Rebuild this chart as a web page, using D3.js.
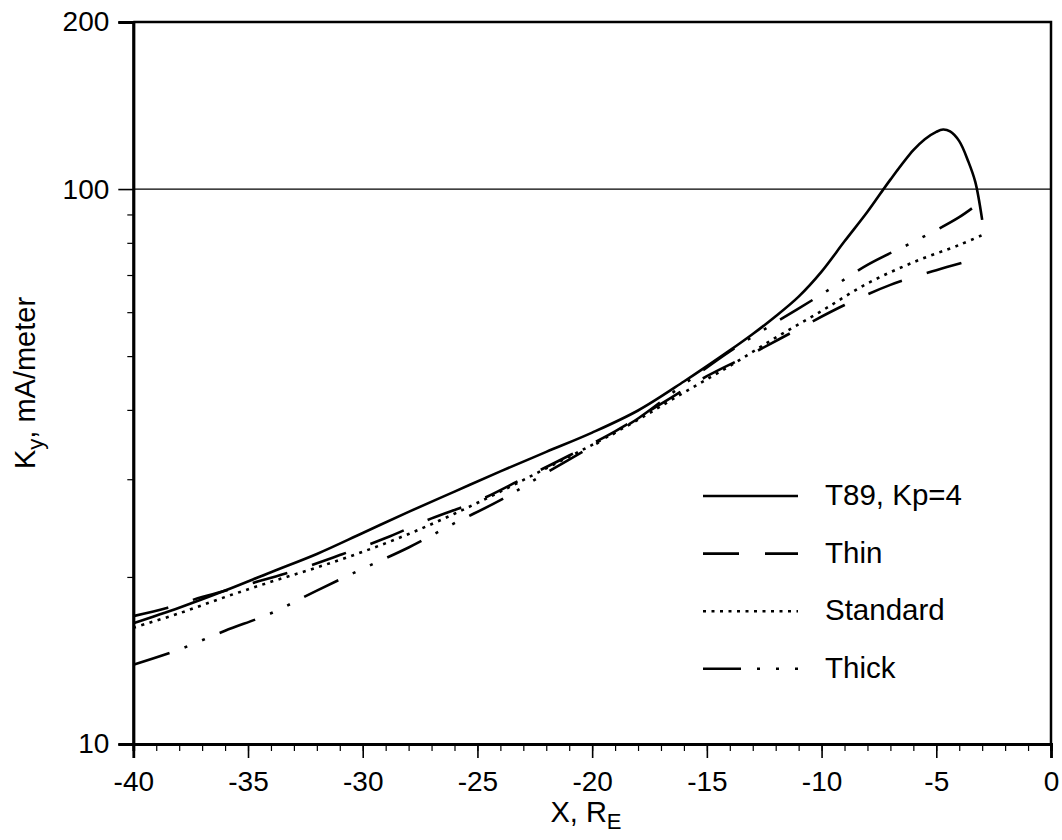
<!DOCTYPE html>
<html>
<head>
<meta charset="utf-8">
<script src="https://cdn.jsdelivr.net/npm/d3@7"></script>
<style>
    body { margin: 0; background: #fff; }
    text { font-family: "Liberation Sans", Arial, Helvetica, sans-serif; fill: #000; }
</style>
</head>
<body>
<div id="chart"></div>
<script>
// Data
var t89X = [-40, -38, -36, -34, -32, -30, -28, -26, -24, -22, -20, -18, -16, -14, -13, -12, -11, -10, -9, -8, -7, -6, -5.5, -5, -4.7, -4.4, -4, -3.6, -3.3, -3];
var t89Y = [16.5, 17.6, 18.9, 20.4, 22.0, 24.0, 26.2, 28.5, 31.0, 33.6, 36.4, 39.9, 45.0, 51.2, 54.8, 59.0, 64.0, 71.0, 80.5, 91.0, 104, 117.5, 123, 126.8, 128, 127, 122, 112, 103, 88];

var thinX = [-40, -38.5, -37, -35, -33, -31, -29, -27, -25, -23, -21, -19, -17, -15, -13, -11, -9, -7, -5, -3];
var thinY = [17.0, 17.6, 18.4, 19.4, 20.5, 21.9, 23.5, 25.5, 27.4, 30.1, 33.1, 36.6, 41.0, 46.0, 50.6, 56.0, 61.8, 67.2, 71.4, 75.3];

var stdX = [-40, -38, -36, -34, -32, -30, -28, -26, -24, -22, -20, -18, -16, -14, -12, -10, -8, -6, -4, -3];
var stdY = [16.2, 17.2, 18.4, 19.6, 20.8, 22.2, 23.9, 26.0, 28.5, 31.4, 34.6, 38.4, 43.0, 48.0, 54.0, 60.3, 67.6, 73.8, 79.3, 82.6];

var thickX = [-40, -38, -36, -34, -32, -30, -28, -26, -24, -22, -20, -18, -16, -14, -12, -10, -8, -6, -4, -3];
var thickY = [13.9, 14.8, 16.0, 17.2, 18.9, 20.7, 22.6, 25.0, 27.5, 30.8, 34.4, 38.6, 44.5, 51.0, 57.5, 64.6, 73.0, 80.3, 89.0, 95.3];

var legendLabels = ["T89, Kp=4", "Thin", "Standard", "Thick"];
var xMajorTicks = [-40, -35, -30, -25, -20, -15, -10, -5, 0];
var yMajorTicks = [10, 100, 200];
var yMinorTicks = [20, 30, 40, 50, 60, 70, 80, 90];

// Layout
var width = 1062, height = 840;
var plot = {left: 133.3, right: 1051, top: 22, bottom: 744};

var svg = d3.select("#chart")
    .append("svg")
    .attr("width", width)
    .attr("height", height);

var x = d3.scaleLinear().domain([-40, 0]).range([plot.left, plot.right]);
var y = d3.scaleLog().domain([10, 200]).range([plot.bottom, plot.top]);

// dash styles, same order as legend
var dashes = [null, "36,26", "3,5.5", "38,16,3,16,3,16"];

function zip(xs, ys) {
    return xs.map(function(d, i) { return [d, ys[i]]; });
}

var series = [zip(t89X, t89Y), zip(thinX, thinY), zip(stdX, stdY), zip(thickX, thickY)];

// reference line at 100
svg.append("line")
    .attr("x1", plot.left).attr("x2", plot.right)
    .attr("y1", y(100)).attr("y2", y(100))
    .attr("stroke", "#000").attr("stroke-width", 1.3);

// frame: top and right
svg.append("path")
    .attr("d", "M" + plot.left + "," + plot.top + "H" + plot.right + "V" + plot.bottom)
    .attr("fill", "none").attr("stroke", "#000").attr("stroke-width", 2.5);

// x axis: minor then major
var xMinor = svg.append("g")
    .attr("transform", "translate(0," + plot.bottom + ")")
    .call(d3.axisBottom(x).tickValues(d3.range(-40, 1, 1)).tickSize(7).tickFormat(""));
var xMajor = svg.append("g")
    .attr("transform", "translate(0," + plot.bottom + ")")
    .call(d3.axisBottom(x).tickValues(xMajorTicks).tickSize(14).tickPadding(13)
        .tickFormat(function(d) { return String(d); }));

// y axis: minor then major
var yMinor = svg.append("g")
    .attr("transform", "translate(" + plot.left + ",0)")
    .call(d3.axisLeft(y).tickValues(yMinorTicks).tickSize(6).tickFormat(""));
var yMajor = svg.append("g")
    .attr("transform", "translate(" + plot.left + ",0)")
    .call(d3.axisLeft(y).tickValues(yMajorTicks).tickSize(15).tickPadding(9)
        .tickFormat(function(d) { return String(d); }));

[xMinor, xMajor, yMinor, yMajor].forEach(function(g) {
    g.select(".domain").attr("stroke-width", 2.8);
    g.selectAll(".tick line").attr("stroke-width", 1.6);
    g.selectAll("text").style("font-size", "28px").attr("fill", "#000");
});
xMinor.selectAll(".tick line").attr("stroke-width", 1.2);
yMinor.selectAll(".tick line").attr("stroke-width", 1.2);

// curves
var line = d3.line()
    .x(function(d) { return x(d[0]); })
    .y(function(d) { return y(d[1]); })
    .curve(d3.curveCatmullRom.alpha(0.5));

svg.append("g").selectAll("path")
    .data(series)
    .join("path")
    .attr("d", line)
    .attr("fill", "none")
    .attr("stroke", "#000")
    .attr("stroke-width", 2.6)
    .attr("stroke-dasharray", function(d, i) { return dashes[i]; });

// legend
var legend = svg.append("g").selectAll("g")
    .data(legendLabels)
    .join("g")
    .attr("transform", function(d, i) { return "translate(0," + (505 + i * 57.6) + ")"; });

legend.append("line")
    .attr("x1", 703).attr("x2", 798)
    .attr("y1", -9).attr("y2", -9)
    .attr("stroke", "#000")
    .attr("stroke-width", 2.6)
    .attr("stroke-dasharray", function(d, i) { return dashes[i]; });

legend.append("text")
    .attr("x", 825)
    .style("font-size", "29.5px")
    .text(function(d) { return d; });

// axis titles
var xTitle = svg.append("text")
    .attr("x", 586)
    .attr("y", 822)
    .attr("text-anchor", "middle")
    .style("font-size", "29px");
xTitle.append("tspan").text("X, R");
xTitle.append("tspan").attr("dy", 7).style("font-size", "22px").text("E");

var yTitle = svg.append("text")
    .attr("transform", "translate(35," + ((plot.top + plot.bottom) / 2) + ") rotate(-90)")
    .attr("text-anchor", "middle")
    .style("font-size", "29px");
yTitle.append("tspan").text("K");
yTitle.append("tspan").attr("dy", 8).style("font-size", "22px").text("y");
yTitle.append("tspan").attr("dy", -8).text(", mA/meter");
</script>
</body>
</html>
